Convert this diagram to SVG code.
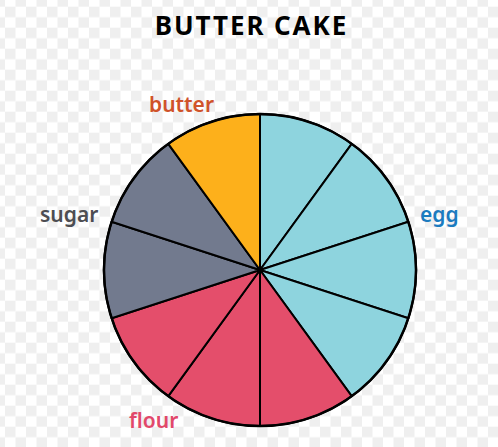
<svg xmlns="http://www.w3.org/2000/svg" width="498" height="447" viewBox="0 0 498 447">
  <defs>
    <pattern id="checker" patternUnits="userSpaceOnUse" x="5" y="6.7" width="21" height="21">
      <rect width="21" height="21" fill="#ffffff"/>
      <rect width="10.5" height="10.5" fill="#efefef"/>
      <rect x="10.5" y="10.5" width="10.5" height="10.5" fill="#efefef"/>
    </pattern>
  </defs>
  <style>
    .slice { stroke: #000000; stroke-width: 2; stroke-linejoin: round; }
    .egg { fill: #8ed4de; }
    .flour { fill: #e44e6b; }
    .sugar { fill: #727a8e; }
    .butter { fill: #fdb01b; }
    .rim { fill: none; stroke: #000000; stroke-width: 2.5; }
    .label { font-family: "Noto Sans", "Liberation Sans", sans-serif; font-weight: 600; font-size: 21px; }
    .title { font-family: "Noto Sans", "Liberation Sans", sans-serif; font-weight: 700; font-size: 26px; letter-spacing: 1.9px; fill: #000000; }
  </style>
  <rect x="0" y="0" width="498" height="447" fill="url(#checker)"/>

  <g id="title">
    <text class="title" x="251.5" y="35" text-anchor="middle">BUTTER CAKE</text>
  </g>

  <g id="egg">
    <path class="slice egg" d="M260,270 L260,114 A156,156 0 0 1 351.70,143.79 Z"/>
    <path class="slice egg" d="M260,270 L351.70,143.79 A156,156 0 0 1 408.37,221.79 Z"/>
    <path class="slice egg" d="M260,270 L408.37,221.79 A156,156 0 0 1 408.37,318.21 Z"/>
    <path class="slice egg" d="M260,270 L408.37,318.21 A156,156 0 0 1 351.70,396.21 Z"/>
    <text class="label" x="420" y="222" fill="#1b7bbf">egg</text>
  </g>

  <g id="flour">
    <path class="slice flour" d="M260,270 L351.70,396.21 A156,156 0 0 1 260,426 Z"/>
    <path class="slice flour" d="M260,270 L260,426 A156,156 0 0 1 168.30,396.21 Z"/>
    <path class="slice flour" d="M260,270 L168.30,396.21 A156,156 0 0 1 111.63,318.21 Z"/>
    <text class="label" x="129" y="428" fill="#e2486a">flour</text>
  </g>

  <g id="sugar">
    <path class="slice sugar" d="M260,270 L111.63,318.21 A156,156 0 0 1 111.63,221.79 Z"/>
    <path class="slice sugar" d="M260,270 L111.63,221.79 A156,156 0 0 1 168.30,143.79 Z"/>
    <text class="label" x="40" y="222" fill="#4d4d52">sugar</text>
  </g>

  <g id="butter">
    <path class="slice butter" d="M260,270 L168.30,143.79 A156,156 0 0 1 260,114 Z"/>
    <text class="label" x="149" y="112" fill="#d0532a">butter</text>
  </g>

  <circle class="rim" cx="260" cy="270" r="156"/>
</svg>
